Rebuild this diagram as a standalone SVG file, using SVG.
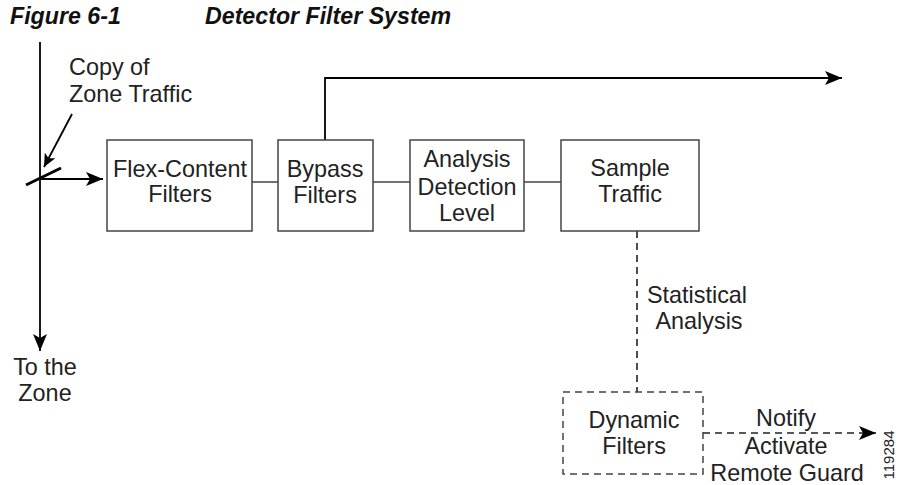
<svg xmlns="http://www.w3.org/2000/svg" width="903" height="485" viewBox="0 0 903 485">
<style>
text{font-family:"Liberation Sans",Arial,sans-serif;font-size:23.4px;fill:#222;text-anchor:middle}
.title{font-weight:bold;font-style:italic;text-anchor:start;fill:#111;font-size:23.2px}
.box{fill:#fff;stroke:#444;stroke-width:1.5}
.dbox{fill:#fff;stroke:#444;stroke-width:1.5;stroke-dasharray:7,5}
.ln{fill:none;stroke:#000;stroke-width:1.8}
.thin{fill:none;stroke:#444;stroke-width:1.5}
.dash{fill:none;stroke:#222;stroke-width:1.6;stroke-dasharray:7,5}
</style>
<defs>
<marker id="ah" markerUnits="userSpaceOnUse" markerWidth="18" markerHeight="14" refX="17" refY="7" orient="auto">
<path d="M0,0 L17,7 L0,14 L4,7 z" fill="#000"/>
</marker>
<marker id="ahs" markerUnits="userSpaceOnUse" markerWidth="14" markerHeight="12" refX="13" refY="6" orient="auto">
<path d="M0,0 L13,6 L0,12 L3,6 z" fill="#000"/>
</marker>
</defs>
<text class="title" x="10" y="24">Figure 6-1</text>
<text class="title" x="205" y="24">Detector Filter System</text>
<g id="connectors">
<path class="ln" d="M40,42 V351" marker-end="url(#ah)"/>
<path class="ln" d="M40,179 H103" marker-end="url(#ah)"/>
<path d="M26,185 L61,168" stroke="#000" stroke-width="3" fill="none"/>
<path class="ln" d="M72,114 L44,167" stroke-width="1.5" marker-end="url(#ahs)"/>
<path class="thin" d="M252,182 H278 M373,182 H410 M524,182 H561"/>
<path class="ln" d="M325,140 V78 H842" marker-end="url(#ah)"/>
<path class="dash" d="M637,231 V392"/>
<path class="dash" d="M703,433 H876" marker-end="url(#ah)"/>
</g>
<g id="copy-label"><text x="109" y="75" style="text-anchor:start" transform="translate(-40,0)">Copy of</text><text x="69" y="102" style="text-anchor:start">Zone Traffic</text></g>
<g id="to-zone"><text x="45" y="375">To the</text><text x="45" y="401">Zone</text></g>
<g id="flex"><rect class="box" x="107" y="140" width="145" height="91"/><text x="180" y="177">Flex-Content</text><text x="180" y="202">Filters</text></g>
<g id="bypass"><rect class="box" x="278" y="140" width="95" height="91"/><text x="325" y="177">Bypass</text><text x="325" y="203">Filters</text></g>
<g id="analysis"><rect class="box" x="410" y="140" width="114" height="91"/><text x="467" y="167">Analysis</text><text x="467" y="195">Detection</text><text x="467" y="221">Level</text></g>
<g id="sample"><rect class="box" x="561" y="140" width="138" height="91"/><text x="630" y="176">Sample</text><text x="630" y="202">Traffic</text></g>
<g id="stat-label"><text x="697" y="303">Statistical</text><text x="699" y="329">Analysis</text></g>
<g id="dynamic"><rect class="dbox" x="563" y="392" width="140" height="82"/><text x="634" y="428">Dynamic</text><text x="634" y="454">Filters</text></g>
<g id="notify-label"><text x="786" y="426">Notify</text><text x="786" y="454">Activate</text><text x="787" y="481">Remote Guard</text></g>
<text x="0" y="0" transform="translate(894,455) rotate(-90)" style="font-size:15px">119284</text>
</svg>
